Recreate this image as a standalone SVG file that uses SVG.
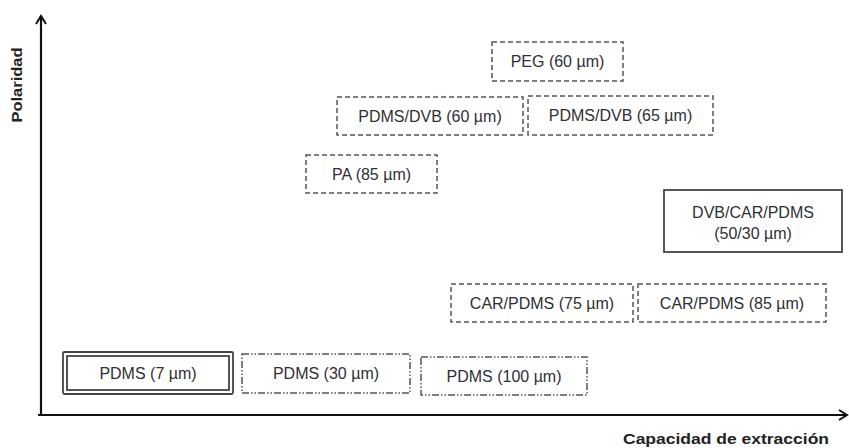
<svg xmlns="http://www.w3.org/2000/svg" width="849" height="448" viewBox="0 0 849 448">
<defs>
<style>
.bg{fill:#fff}
.box{fill:#fff;stroke:#555;stroke-width:1.5}
.dash{stroke-dasharray:5 3}
.ddot{stroke-dasharray:7 2 1.5 2 1.5 2}
.solid{stroke:#444;stroke-width:1.8}
.t{font-family:"Liberation Sans",Arial,sans-serif;font-size:16px;fill:#2f3033;text-anchor:middle}
.ax{stroke:#111;stroke-width:2.2;fill:none}
.lab{font-family:"Liberation Sans",Arial,sans-serif;font-size:15px;font-weight:bold;fill:#222}
</style>
<marker id="arr" viewBox="0 0 12 12" refX="10" refY="6" markerWidth="12" markerHeight="12" markerUnits="userSpaceOnUse" orient="auto">
<path d="M2,1 L10,6 L2,11" fill="none" stroke="#111" stroke-width="2"/>
</marker>
</defs>
<rect class="bg" x="0" y="0" width="849" height="448"/>
<g id="connectors">
<line class="ax" x1="41" y1="415" x2="41" y2="16" marker-end="url(#arr)"/>
<line class="ax" x1="38" y1="415" x2="847" y2="415" marker-end="url(#arr)"/>
</g>
<g id="axis-labels">
<text class="lab" transform="translate(22,85) rotate(-90)" text-anchor="middle" textLength="75" lengthAdjust="spacingAndGlyphs">Polaridad</text>
<text class="lab" x="623" y="443.5" textLength="206" lengthAdjust="spacingAndGlyphs">Capacidad de extracción</text>
</g>
<g id="peg60">
<rect class="box dash" x="492" y="42" width="131" height="39"/>
<text class="t" x="557.5" y="67">PEG (60 µm)</text>
</g>
<g id="pdmsdvb60">
<rect class="box dash" x="337" y="97" width="186" height="38"/>
<text class="t" x="430" y="121.5">PDMS/DVB (60 µm)</text>
</g>
<g id="pdmsdvb65">
<rect class="box dash" x="528" y="96" width="185" height="39"/>
<text class="t" x="620.5" y="121">PDMS/DVB (65 µm)</text>
</g>
<g id="pa85">
<rect class="box dash" x="306" y="155" width="131" height="38"/>
<text class="t" x="371.5" y="179.5">PA (85 µm)</text>
</g>
<g id="dvbcarpdms">
<rect class="box solid" x="664" y="190" width="178" height="62"/>
<text class="t" x="753" y="218">DVB/CAR/PDMS</text>
<text class="t" x="753" y="239">(50/30 µm)</text>
</g>
<g id="carpdms75">
<rect class="box dash" x="451" y="284" width="182" height="38"/>
<text class="t" x="542" y="308.5">CAR/PDMS (75 µm)</text>
</g>
<g id="carpdms85">
<rect class="box dash" x="638" y="284" width="188" height="38"/>
<text class="t" x="732" y="308.5">CAR/PDMS (85 µm)</text>
</g>
<g id="pdms7">
<rect class="box solid" x="63" y="352" width="170" height="42" rx="1.5"/>
<rect class="box solid" x="67" y="356" width="162" height="34" stroke-width="1.3"/>
<text class="t" x="148" y="379">PDMS (7 µm)</text>
</g>
<g id="pdms30">
<rect class="box ddot" x="242" y="354" width="168" height="39"/>
<text class="t" x="326" y="379">PDMS (30 µm)</text>
</g>
<g id="pdms100">
<rect class="box ddot" x="421" y="357" width="166" height="38"/>
<text class="t" x="504" y="382">PDMS (100 µm)</text>
</g>
</svg>
